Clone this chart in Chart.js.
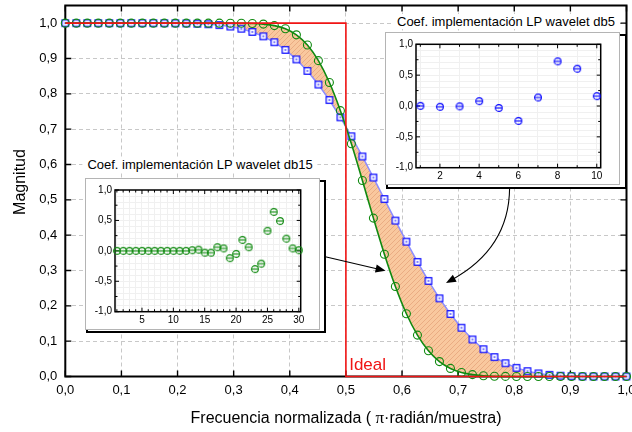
<!DOCTYPE html>
<html><head><meta charset="utf-8">
<script src="https://cdn.jsdelivr.net/npm/chart.js@4.4.0/dist/chart.umd.min.js"></script>
<style>
html,body{margin:0;padding:0;background:#fff;}
#wrap{position:relative;width:632px;height:432px;overflow:hidden;font-family:"Liberation Sans",Arial,sans-serif;background:#fff;}
#main{position:absolute;left:0;top:0;}
.shadow{position:absolute;box-sizing:border-box;border:2px solid #000;background:#fff;}
.box{position:absolute;box-sizing:border-box;border:1px solid #b4b4b4;background:#fff;}
.box canvas{display:block;}
.ttl{position:absolute;background:#fff;font-size:13px;line-height:15px;white-space:nowrap;color:#000;padding:0 5px;transform:translateX(-50%);}
</style></head><body>
<div id="wrap">
<canvas id="main" width="632" height="432"></canvas>
<div class="ttl" style="left:200px;top:157px">Coef. implementación LP wavelet db15</div>
<div class="shadow" style="left:86px;top:180px;width:240px;height:153px"></div>
<div class="box" style="left:85px;top:178px;width:235px;height:152px"><canvas id="c15" width="233" height="150"></canvas></div>
<div class="ttl" style="left:506px;top:14px">Coef. implementación LP wavelet db5</div>
<div class="shadow" style="left:386px;top:34px;width:241px;height:155px"></div>
<div class="box" style="left:385px;top:32px;width:235px;height:153px"><canvas id="c5" width="233" height="151"></canvas></div>
</div>
<script>
// ---------- data ----------
const freq = [0,0.0196,0.0392,0.0588,0.0784,0.0980,0.1176,0.1373,0.1569,0.1765,0.1961,0.2157,0.2353,0.2549,0.2745,0.2941,0.3137,0.3333,0.3529,0.3725,0.3922,0.4118,0.4314,0.4510,0.4706,0.4902,0.5098,0.5294,0.5490,0.5686,0.5882,0.6078,0.6275,0.6471,0.6667,0.6863,0.7059,0.7255,0.7451,0.7647,0.7843,0.8039,0.8235,0.8431,0.8627,0.8824,0.9020,0.9216,0.9412,0.9608,0.9804,1.0];
const db5Mag = [1.000,1.000,1.000,1.000,1.000,1.000,1.000,1.000,1.000,0.9999,0.9997,0.9993,0.9985,0.9970,0.9945,0.9904,0.9842,0.9752,0.9627,0.9460,0.9243,0.8974,0.8648,0.8264,0.7825,0.7334,0.6798,0.6227,0.5631,0.5022,0.4413,0.3816,0.3243,0.2706,0.2212,0.1769,0.1380,0.1048,0.0772,0.0550,0.0376,0.0245,0.0151,0.0088,0.0046,0.0022,0.0009,0.0003,0.0001,0,0,0];
const db15Mag = [1.000,1.000,1.000,1.000,1.000,1.000,1.000,1.000,1.000,1.000,1.000,1.000,1.000,1.000,1.000,0.9999,0.9997,0.9991,0.9974,0.9931,0.9841,0.9670,0.9382,0.8939,0.8320,0.7524,0.6587,0.5548,0.4483,0.3462,0.2546,0.1776,0.1171,0.0727,0.0422,0.0229,0.0115,0.0053,0.0022,0.0008,0.0003,0,0,0,0,0,0,0,0,0,0,0];
const idealX = [0, 0.5, 0.5, 1.0];
const idealY = [1, 1, 0, 0];
const xTickValues = [0,0.1,0.2,0.3,0.4,0.5,0.6,0.7,0.8,0.9,1.0];
const xTickLabels = ['0,0','0,1','0,2','0,3','0,4','0,5','0,6','0,7','0,8','0,9','1,0'];
const yTickValues = [0,0.1,0.2,0.3,0.4,0.5,0.6,0.7,0.8,0.9,1.0];
const yTickLabels = ['0,0','0,1','0,2','0,3','0,4','0,5','0,6','0,7','0,8','0,9','1,0'];
const db15Index = [1,2,3,4,5,6,7,8,9,10,11,12,13,14,15,16,17,18,19,20,21,22,23,24,25,26,27,28,29,30];
const db15Coef = [0.000,0.000,0.000,0.000,0.000,0.000,0.000,0.000,0.000,0.000,0.000,0.000,0.010,0.020,-0.030,-0.030,0.060,0.040,-0.120,-0.050,0.180,0.060,-0.300,-0.210,0.330,0.640,0.490,0.200,0.040,0.010];
const db5Index = [1,2,3,4,5,6,7,8,9,10];
const db5Coef = [0.003,-0.013,-0.006,0.078,-0.032,-0.242,0.138,0.724,0.604,0.160];
const insetYTickValues = [-1,-0.5,0,0.5,1];
const insetYTickLabels = ['-1,0','-0,5','0,0','0,5','1,0'];
const db15XTickValues = [5,10,15,20,25,30];
const db15XTickLabels = ['5','10','15','20','25','30'];
const db5XTickValues = [2,4,6,8,10];
const db5XTickLabels = ['2','4','6','8','10'];

// ---------- styles ----------
const FONT = '"Liberation Sans", Arial, sans-serif';
Chart.defaults.font.family = FONT;
Chart.defaults.color = '#000';
const RED = '#f01414', GREEN = '#108a10', BLUE = '#0000ff', BLUELINE = '#8c8cff';

function hatchPattern(){
  const c = document.createElement('canvas'); c.width = 5; c.height = 5;
  const g = c.getContext('2d');
  g.fillStyle = '#f9c89e'; g.fillRect(0,0,5,5);
  g.strokeStyle = '#e6a47c'; g.lineWidth = 0.8;
  g.beginPath(); g.moveTo(-1,6); g.lineTo(6,-1); g.moveTo(-1,1); g.lineTo(1,-1); g.moveTo(4,6); g.lineTo(6,4); g.stroke();
  return g.createPattern(c,'repeat');
}
function squareMarker(){
  const c = document.createElement('canvas'); c.width = 10; c.height = 10;
  const g = c.getContext('2d');
  g.fillStyle = '#fff'; g.fillRect(1.75,1.75,6.5,6.5);
  g.strokeStyle = BLUE; g.lineWidth = 1.2; g.strokeRect(1.75,1.75,6.5,6.5);
  g.fillStyle = BLUE; g.fillRect(4.3,4.3,1.4,1.4);
  return c;
}
function thetaMarker(color){
  const c = document.createElement('canvas'); c.width = 10; c.height = 10;
  const g = c.getContext('2d');
  g.strokeStyle = color; g.lineWidth = 1.1;
  g.beginPath(); g.arc(5,5,3.4,0,Math.PI*2); g.stroke();
  g.beginPath(); g.moveTo(1.8,5); g.lineTo(8.2,5); g.stroke();
  return c;
}
function labelFor(values, labels){
  return (v)=>{ const i = values.findIndex(t=>Math.abs(t-v)<1e-9); return i>=0 ? labels[i] : ''; };
}
function noPadX(s, h){ s.height = h; s.paddingLeft = 0; s.paddingRight = 0; s.paddingTop = 0; s.paddingBottom = 0; }
function noPadY(s, w){ s.width = w; s.paddingTop = 0; s.paddingBottom = 0; s.paddingLeft = 0; s.paddingRight = 0; }

// annotation positions (data coords)
const arrow1 = {from:[0.4633,0.3389], to:[0.5707,0.2993]};
const arrow2 = {p0:[0.7917,0.5332], p1:[0.7909,0.3618], p2:[0.6783,0.2645]};
const idealPos = [0.5058, 0.0184];

function arrowHead(ctx, tx, ty, fx, fy){
  const a = Math.atan2(ty-fy, tx-fx), L = 10, h = 4;
  ctx.beginPath();
  ctx.moveTo(tx,ty);
  ctx.lineTo(tx - L*Math.cos(a) + h*Math.sin(a), ty - L*Math.sin(a) - h*Math.cos(a));
  ctx.lineTo(tx - L*Math.cos(a) - h*Math.sin(a), ty - L*Math.sin(a) + h*Math.cos(a));
  ctx.closePath(); ctx.fill();
}

const mainDecor = {
  id:'mainDecor',
  beforeDatasetsDraw(chart){
    const {ctx, chartArea:a, scales:{x,y}} = chart;
    ctx.save();
    ctx.strokeStyle = '#000'; ctx.lineWidth = 1.4;
    ctx.beginPath();
    xTickValues.forEach(v=>{ const p = x.getPixelForValue(v);
      ctx.moveTo(p,a.bottom); ctx.lineTo(p,a.bottom-6); ctx.moveTo(p,a.top); ctx.lineTo(p,a.top+6); });
    yTickValues.forEach(v=>{ const p = y.getPixelForValue(v);
      ctx.moveTo(a.left,p); ctx.lineTo(a.left+6,p); ctx.moveTo(a.right,p); ctx.lineTo(a.right-6,p); });
    ctx.stroke();
    ctx.lineWidth = 2;
    ctx.strokeRect(a.left, a.top, a.right-a.left, a.bottom-a.top);
    ctx.restore();
  },
  afterDraw(chart){
    const {ctx, scales:{x,y}} = chart;
    ctx.save();
    ctx.fillStyle = RED; ctx.font = '17px ' + FONT; ctx.textAlign = 'left'; ctx.textBaseline = 'alphabetic';
    ctx.fillText('Ideal', x.getPixelForValue(idealPos[0]), y.getPixelForValue(idealPos[1]));
    ctx.strokeStyle = '#000'; ctx.fillStyle = '#000'; ctx.lineWidth = 1.1;
    const f1 = [x.getPixelForValue(arrow1.from[0]), y.getPixelForValue(arrow1.from[1])];
    const t1 = [x.getPixelForValue(arrow1.to[0]), y.getPixelForValue(arrow1.to[1])];
    const ang = Math.atan2(t1[1]-f1[1], t1[0]-f1[0]);
    ctx.beginPath(); ctx.moveTo(f1[0],f1[1]); ctx.lineTo(t1[0]-8*Math.cos(ang), t1[1]-8*Math.sin(ang)); ctx.stroke();
    arrowHead(ctx, t1[0], t1[1], f1[0], f1[1]);
    const p0 = [x.getPixelForValue(arrow2.p0[0]), y.getPixelForValue(arrow2.p0[1])];
    const p1 = [x.getPixelForValue(arrow2.p1[0]), y.getPixelForValue(arrow2.p1[1])];
    const p2 = [x.getPixelForValue(arrow2.p2[0]), y.getPixelForValue(arrow2.p2[1])];
    const a2 = Math.atan2(p2[1]-p1[1], p2[0]-p1[0]);
    ctx.beginPath(); ctx.moveTo(p0[0],p0[1]); ctx.quadraticCurveTo(p1[0],p1[1], p2[0]-6*Math.cos(a2), p2[1]-6*Math.sin(a2)); ctx.stroke();
    arrowHead(ctx, p2[0], p2[1], p1[0], p1[1]);
    ctx.fillStyle = '#000';
    ctx.save(); ctx.translate(25, 182); ctx.rotate(-Math.PI/2);
    ctx.font = '16px ' + FONT; ctx.textAlign = 'center'; ctx.textBaseline = 'alphabetic';
    ctx.fillText('Magnitud', 0, 0); ctx.restore();
    const parts = [['Frecuencia normalizada ( ', '16px ' + FONT], ['π', '17px "Liberation Serif", serif'], ['·radián/muestra)', '16px ' + FONT]];
    let total = 0; parts.forEach(p=>{ ctx.font = p[1]; total += ctx.measureText(p[0]).width; });
    let cx = 346 - total/2;
    ctx.textAlign = 'left'; ctx.textBaseline = 'alphabetic';
    parts.forEach(p=>{ ctx.font = p[1]; ctx.fillText(p[0], cx, 423); cx += ctx.measureText(p[0]).width; });
    ctx.restore();
  }
};

new Chart(document.getElementById('main'), {
  type: 'line',
  data: { datasets: [
    { label:'Ideal', data: idealX.map((v,i)=>({x:v, y:idealY[i]})), borderColor: RED, borderWidth: 1.6, pointRadius: 0, tension: 0, fill: false, clip: false },
    { label:'db15', data: freq.map((v,i)=>({x:v, y:db15Mag[i]})), borderColor: GREEN, borderWidth: 1.6, cubicInterpolationMode: 'monotone',
      pointStyle: 'circle', pointRadius: 4, pointBorderWidth: 1.1, pointBorderColor: GREEN, pointBackgroundColor: 'rgba(0,0,0,0)', fill: false, clip: false },
    { label:'db5', data: freq.map((v,i)=>({x:v, y:db5Mag[i]})), borderColor: BLUELINE, borderWidth: 1.5, tension: 0,
      pointStyle: squareMarker(), pointRadius: 4, backgroundColor: hatchPattern(), fill: 1, clip: false }
  ]},
  options: {
    responsive: false, animation: false, devicePixelRatio: 1,
    layout: { padding: { left: 0, right: 2.5, top: 5.3, bottom: 0 } },
    plugins: { legend: { display: false }, tooltip: { enabled: false } },
    scales: {
      x: { type: 'linear', min: 0, max: 1,
        afterBuildTicks: s => { s.ticks = xTickValues.map(v=>({value:v})); },
        afterFit: s => noPadX(s, 55.5),
        ticks: { autoSkip: false, maxRotation: 0, padding: 6, font: { size: 13 }, color: '#000', callback: labelFor(xTickValues, xTickLabels) },
        grid: { color: '#c8c8c8', lineWidth: 1, drawTicks: false },
        border: { display: false, dash: [4,3] } },
      y: { type: 'linear', min: 0, max: 1.05,
        afterBuildTicks: s => { s.ticks = yTickValues.map(v=>({value:v})); },
        afterFit: s => noPadY(s, 65.3),
        ticks: { autoSkip: false, padding: 8, font: { size: 13 }, color: '#000', callback: labelFor(yTickValues, yTickLabels) },
        grid: { color: '#c8c8c8', lineWidth: 1, drawTicks: false },
        border: { display: false, dash: [4,3] } }
    }
  },
  plugins: [mainDecor]
});

function makeInset(id, idx, coef, color, xmin, xmax, xVals, xLbls, geom){
  const cv = document.getElementById(id);
  const W = cv.width, H = cv.height;
  const gridX = []; for (let v = Math.ceil(xmin); v <= Math.floor(xmax); v++) gridX.push(v);
  const gridY = []; for (let i = -10; i <= 10; i++) gridY.push(i/10);
  const quarter = [-1,-0.75,-0.5,-0.25,0,0.25,0.5,0.75,1];
  const deco = {
    id: 'insetDeco',
    beforeDatasetsDraw(chart){
      const {ctx, chartArea:a, scales:{x,y}} = chart;
      ctx.save(); ctx.strokeStyle = '#000'; ctx.lineWidth = 1;
      ctx.beginPath();
      gridX.forEach(v=>{ const p = x.getPixelForValue(v); const L = xVals.includes(v) ? 4 : 2.5;
        ctx.moveTo(p,a.bottom); ctx.lineTo(p,a.bottom-L); ctx.moveTo(p,a.top); ctx.lineTo(p,a.top+L); });
      quarter.forEach(v=>{ const p = y.getPixelForValue(v); const L = insetYTickValues.includes(v) ? 4 : 2.5;
        ctx.moveTo(a.left,p); ctx.lineTo(a.left+L,p); ctx.moveTo(a.right,p); ctx.lineTo(a.right-L,p); });
      ctx.stroke();
      ctx.lineWidth = 1.5;
      ctx.strokeRect(a.left, a.top, a.right-a.left, a.bottom-a.top);
      ctx.restore();
    }
  };
  return new Chart(cv, {
    type: 'line',
    data: { datasets: [{ data: idx.map((v,i)=>({x:v, y:coef[i]})), showLine: false, pointStyle: thetaMarker(color), pointRadius: 4, borderColor: color, backgroundColor: color, clip: false }] },
    options: {
      responsive: false, animation: false, devicePixelRatio: 1,
      layout: { padding: { left: 0, top: geom.top, right: W - geom.right, bottom: 0 } },
      plugins: { legend: { display: false }, tooltip: { enabled: false } },
      scales: {
        x: { type: 'linear', min: xmin, max: xmax,
          afterBuildTicks: s => { s.ticks = gridX.map(v=>({value:v})); },
          afterFit: s => noPadX(s, H - geom.bottom),
          ticks: { autoSkip: false, maxRotation: 0, padding: 3, font: { size: 10 }, color: '#000', callback: labelFor(xVals, xLbls) },
          grid: { color: '#f0f0f0', drawTicks: false }, border: { display: false } },
        y: { type: 'linear', min: -1, max: 1,
          afterBuildTicks: s => { s.ticks = gridY.map(v=>({value:v})); },
          afterFit: s => noPadY(s, geom.left),
          ticks: { autoSkip: false, padding: 3, font: { size: 10 }, color: '#000', callback: labelFor(insetYTickValues, insetYTickLabels) },
          grid: { color: '#f0f0f0', drawTicks: false }, border: { display: false } }
      }
    },
    plugins: [deco]
  });
}
makeInset('c15', db15Index, db15Coef, GREEN, 0.7, 30.3, db15XTickValues, db15XTickLabels, {left:29, right:214.7, top:11, bottom:132.7});
makeInset('c5', db5Index, db5Coef, BLUE, 0.78, 10.2, db5XTickValues, db5XTickLabels, {left:30, right:214.7, top:11.3, bottom:134.7});
</script>
</body></html>
